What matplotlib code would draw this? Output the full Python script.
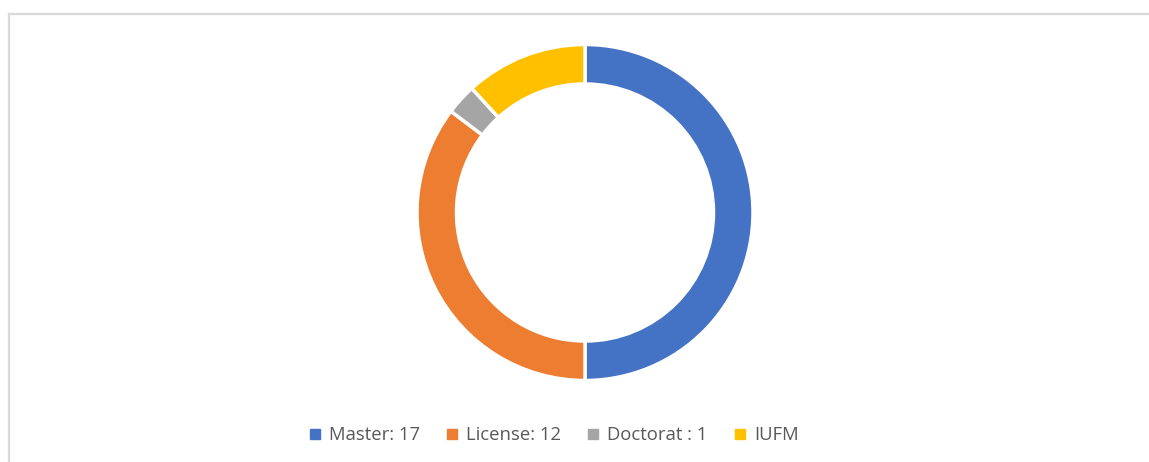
import matplotlib.pyplot as plt
from matplotlib.lines import Line2D

labels = ['Master: 17', 'License: 12', 'Doctorat : 1', 'IUFM']
values = [17, 12, 1, 4]
colors = ['#4472c4', '#ed7d31', '#a5a5a5', '#ffc000']

W, H = 1149, 462
fig = plt.figure(figsize=(W / 100, H / 100), dpi=100)

# donut centre (585, 212) px, outer radius 168 px
cx, cy, r = 585, 212.5, 168
ax = fig.add_axes([(cx - r) / W, (H - cy - r) / H, 2 * r / W, 2 * r / H])
ax.pie(values, colors=colors, startangle=90, counterclock=False,
       wedgeprops=dict(width=0.235, edgecolor='white', linewidth=2.5))
ax.set_xlim(-1, 1)
ax.set_ylim(-1, 1)
ax.set_aspect('equal')
ax.axis('off')

# chart frame (left and top edges)
fig.add_artist(Line2D([8.5 / W, 8.5 / W], [0, 1 - 13.5 / H], transform=fig.transFigure,
                      color='#d9d9d9', lw=1.6))
fig.add_artist(Line2D([8.5 / W, 1], [1 - 13.5 / H, 1 - 13.5 / H], transform=fig.transFigure,
                      color='#d9d9d9', lw=1.6))

handles = [Line2D([], [], marker='s', linestyle='none', markersize=7,
                  markerfacecolor=c, markeredgecolor=c) for c in colors]
leg = fig.legend(handles, labels, loc='center', bbox_to_anchor=(554 / W, 1 - 435 / H),
                 ncol=4, frameon=False, handlelength=0.6,
                 handletextpad=0.45, columnspacing=1.45,
                 prop={'family': 'Open Sans', 'size': 13.3})
for t in leg.get_texts():
    t.set_color('#595959')

fig.savefig('out.png', dpi=100, facecolor='white')
